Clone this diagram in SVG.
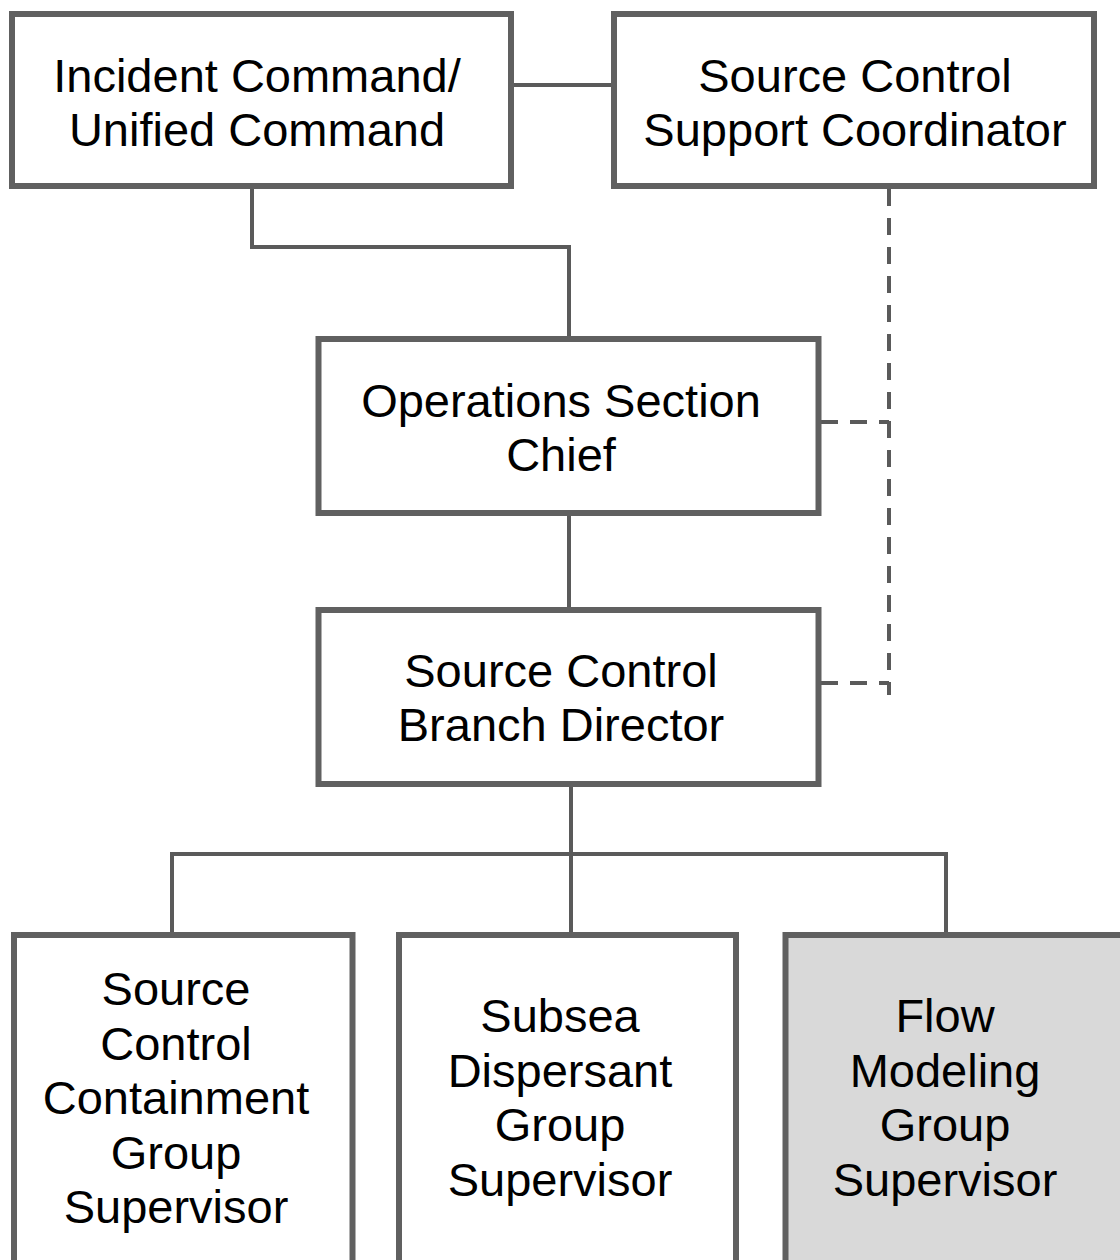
<svg xmlns="http://www.w3.org/2000/svg" width="1120" height="1260" viewBox="0 0 1120 1260">
<style>
.box{fill:#ffffff;stroke:#606060;stroke-width:6}
.grey{fill:#d9d9d9}
.ln{fill:none;stroke:#5a5a5a;stroke-width:4}
.dash{fill:none;stroke:#5a5a5a;stroke-width:4;stroke-dasharray:17 12}
text{font-family:"Liberation Sans",Arial,sans-serif;font-size:47px;fill:#000;text-anchor:middle}
</style>
<rect width="1120" height="1260" fill="#ffffff"/>
<g id="connectors">
<line class="ln" x1="511" y1="85" x2="614" y2="85"/>
<polyline class="ln" points="252,189 252,247 569,247 569,336"/>
<line class="ln" x1="569" y1="516" x2="569" y2="607"/>
<line class="ln" x1="571" y1="787" x2="571" y2="932"/>
<polyline class="ln" points="172,932 172,854 946,854 946,932"/>
<line class="dash" x1="889" y1="189" x2="889" y2="695"/>
<line class="dash" x1="821" y1="422" x2="889" y2="422"/>
<line class="dash" x1="821" y1="683" x2="889" y2="683"/>
</g>
<g id="incident-command">
<rect class="box" x="12" y="14" width="499" height="172"/>
<text x="257" y="92">Incident Command/</text>
<text x="257" y="146">Unified Command</text>
</g>
<g id="support-coordinator">
<rect class="box" x="614" y="14" width="480" height="172"/>
<text x="855" y="92">Source Control</text>
<text x="855" y="146">Support Coordinator</text>
</g>
<g id="operations-chief">
<rect class="box" x="318.5" y="339" width="500" height="174"/>
<text x="561" y="417">Operations Section</text>
<text x="561" y="471">Chief</text>
</g>
<g id="branch-director">
<rect class="box" x="318.5" y="610" width="500" height="174"/>
<text x="561" y="687">Source Control</text>
<text x="561" y="741">Branch Director</text>
</g>
<g id="containment-supervisor">
<rect class="box" x="14" y="935" width="338.5" height="340"/>
<text x="176" y="1005">Source</text>
<text x="176" y="1059.5">Control</text>
<text x="176" y="1114">Containment</text>
<text x="176" y="1168.5">Group</text>
<text x="176" y="1223">Supervisor</text>
</g>
<g id="dispersant-supervisor">
<rect class="box" x="399" y="935" width="337" height="340"/>
<text x="560" y="1032">Subsea</text>
<text x="560" y="1086.5">Dispersant</text>
<text x="560" y="1141">Group</text>
<text x="560" y="1195.5">Supervisor</text>
</g>
<g id="flow-modeling-supervisor">
<rect class="box grey" x="785.5" y="935" width="350" height="340"/>
<text x="945" y="1032">Flow</text>
<text x="945" y="1086.5">Modeling</text>
<text x="945" y="1141">Group</text>
<text x="945" y="1195.5">Supervisor</text>
</g>
</svg>
